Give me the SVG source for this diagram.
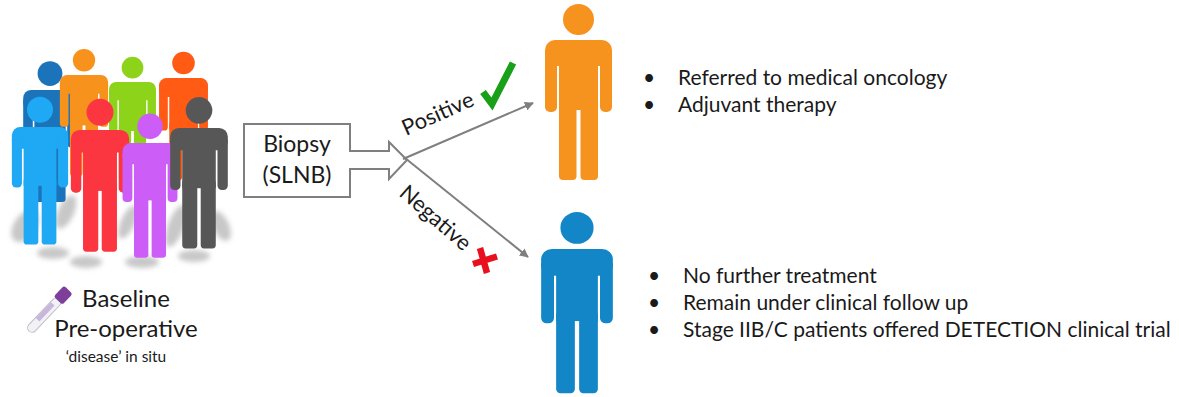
<svg xmlns="http://www.w3.org/2000/svg" width="1179" height="397" viewBox="0 0 1179 397">
  <style>
    text { font-family: Lato, "Open Sans", "Liberation Sans", sans-serif; fill: #1a1a1a; }
    .bul { font-size: 21px; }
    .big { font-size: 23px; }
    .lbl { font-size: 22px; }
    .conn { stroke: #7f7f7f; stroke-width: 2; fill: none; }
    .shadow { fill: #c8c8c8; }
  </style>
  <defs>
    <!-- standing figure, origin at the centre of the shoulder line -->
    <g id="person">
      <circle cx="0" cy="-20.5" r="15.5"/>
      <rect x="-33.5" y="0" width="67" height="26" rx="10"/>
      <rect x="-33.5" y="10" width="12" height="62" rx="5"/>
      <rect x="21.5" y="10" width="12" height="62" rx="5"/>
      <rect x="-19.5" y="10" width="39" height="60"/>
      <rect x="-19.5" y="60" width="17.5" height="80" rx="4"/>
      <rect x="2" y="60" width="17.5" height="80" rx="4"/>
    </g>
    <marker id="arrow" viewBox="0 0 10 10" refX="9" refY="5" markerWidth="4.5" markerHeight="4.5" markerUnits="strokeWidth" orient="auto">
      <path d="M0,0 L10,5 L0,10 z" fill="#7f7f7f"/>
    </marker>
    <filter id="soft" x="-30%" y="-30%" width="160%" height="160%">
      <feGaussianBlur stdDeviation="2.5"/>
    </filter>
  </defs>

  <!-- crowd of patients -->
  <g id="crowd">
    <g id="crowd-shadows" class="shadow" filter="url(#soft)">
      <ellipse cx="25" cy="226" rx="11" ry="18" transform="rotate(35 25 226)"/>
      <ellipse cx="66" cy="212" rx="8" ry="18" transform="rotate(25 66 212)"/>
      <ellipse cx="128" cy="222" rx="7" ry="18" transform="rotate(25 128 222)"/>
      <ellipse cx="176" cy="226" rx="8" ry="22" transform="rotate(20 176 226)"/>
      <ellipse cx="221" cy="226" rx="8" ry="16" transform="rotate(-25 221 226)"/>
      <ellipse cx="53" cy="253" rx="16" ry="6"/>
      <ellipse cx="86" cy="262" rx="16" ry="6"/>
      <ellipse cx="142" cy="262" rx="17" ry="6"/>
      <ellipse cx="194" cy="256" rx="16" ry="6"/>
    </g>
    <use href="#person" fill="#1b74ba" transform="translate(50 90) scale(0.8)"/>
    <use href="#person" fill="#f7921d" transform="translate(84 75) scale(0.72)"/>
    <use href="#person" fill="#8dd31a" transform="translate(132.5 82) scale(0.7)"/>
    <use href="#person" fill="#ff5b14" transform="translate(183.5 78) scale(0.73)"/>
    <use href="#person" fill="#1fa8f4" transform="translate(40 127) scale(0.84)"/>
    <use href="#person" fill="#fb3640" transform="translate(100 130) scale(0.87)"/>
    <use href="#person" fill="#cc5ef7" transform="translate(150 143) scale(0.82)"/>
    <use href="#person" fill="#575757" transform="translate(199 128) scale(0.86)"/>
  </g>

  <!-- blood tube -->
  <g id="tube" transform="translate(29 331) rotate(-46.4)">
    <rect x="0" y="-4.5" width="44" height="9" rx="4.5" fill="#f2f2f6" stroke="#bdbdc8" stroke-width="1"/>
    <rect x="14" y="-4" width="22" height="5" fill="#c9b6dd"/>
    <rect x="42" y="-6" width="15" height="12" rx="2.5" fill="#7e3f9a"/>
  </g>

  <g id="baseline-label">
    <text x="126" y="307" text-anchor="middle" class="big" style="font-size:24px">Baseline</text>
    <text x="126" y="337" text-anchor="middle" class="big" style="font-size:24px">Pre-operative</text>
    <text x="116" y="362" text-anchor="middle" style="font-size:15.5px">‘disease’ in situ</text>
  </g>

  <!-- biopsy block arrow -->
  <g id="biopsy">
    <path d="M244,124 L350,124 L350,151 L389,151 L389,142 L407,160 L389,179 L389,169 L350,169 L350,197 L244,197 Z" fill="#ffffff" stroke="#7f7f7f" stroke-width="2" stroke-linejoin="miter"/>
    <text x="297" y="152" text-anchor="middle" class="big">Biopsy</text>
    <text x="297" y="183" text-anchor="middle" class="big">(SLNB)</text>
  </g>

  <g id="connectors">
    <line class="conn" x1="403" y1="159" x2="533" y2="103" marker-end="url(#arrow)"/>
    <line class="conn" x1="405" y1="158" x2="528" y2="257" marker-end="url(#arrow)"/>
  </g>

  <g id="positive-label">
    <text x="406" y="136" class="lbl" transform="rotate(-24 406 136)">Positive</text>
    <path d="M483,92 L492,104 L513,63" fill="none" stroke="#19a019" stroke-width="7" stroke-linejoin="miter"/>
  </g>

  <g id="negative-label">
    <text x="398" y="195" class="lbl" transform="rotate(41 398 195)">Negative</text>
    <path d="M473,264 L497,256.5 M480,248 L487,273" fill="none" stroke="#e8101d" stroke-width="6.5"/>
  </g>

  <!-- outcome: positive -->
  <g id="positive-patient">
    <use href="#person" fill="#f6921e" transform="translate(578.5 40)"/>
    <text x="643" y="85" class="bul">•</text>
    <text x="678" y="85" class="bul">Referred to medical oncology</text>
    <text x="643" y="112" class="bul">•</text>
    <text x="678" y="112" class="bul">Adjuvant therapy</text>
  </g>

  <!-- outcome: negative -->
  <g id="negative-patient">
    <use href="#person" fill="#1386c7" transform="translate(577 249) scale(1.07 1.03)"/>
    <text x="648" y="283" class="bul">•</text>
    <text x="683" y="283" class="bul">No further treatment</text>
    <text x="648" y="310" class="bul">•</text>
    <text x="683" y="310" class="bul">Remain under clinical follow up</text>
    <text x="648" y="337" class="bul">•</text>
    <text x="683" y="337" class="bul">Stage IIB/C patients offered DETECTION clinical trial</text>
  </g>
</svg>
